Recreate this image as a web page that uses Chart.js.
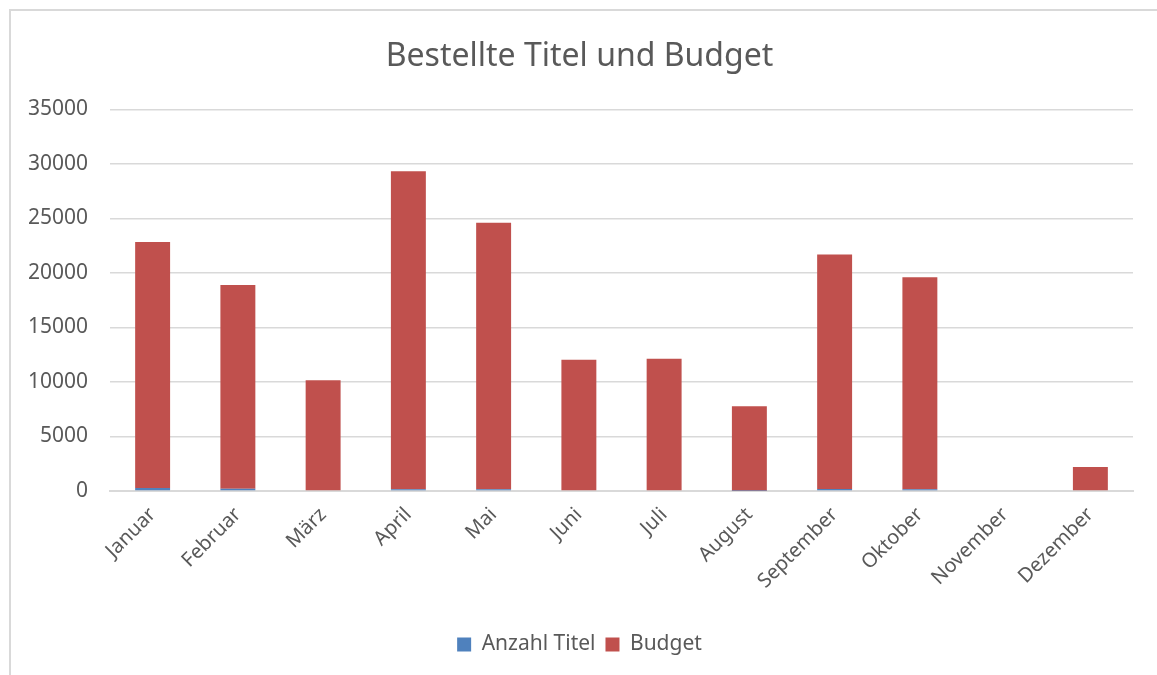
<!DOCTYPE html>
<html>
<head>
<meta charset="utf-8">
<script src="https://cdn.jsdelivr.net/npm/chart.js@4"></script>
<style>
    body { margin: 0; background: #fff; }
    #frame { position: absolute; left: 9px; top: 9px; width: 1160px; height: 680px; border: 2px solid #d9d9d9; }
    #wrap { position: absolute; left: 0; top: 0; width: 1157px; height: 675px; }
</style>
</head>
<body>
<div id="frame"></div>
<div id="wrap"><canvas id="budgetChart"></canvas></div>
<script>
// Daten
const monate = ['Januar', 'Februar', 'März', 'April', 'Mai', 'Juni', 'Juli', 'August', 'September', 'Oktober', 'November', 'Dezember'];
const anzahlTitel = [280, 200, 0, 160, 160, 80, 0, 30, 190, 170, 0, 0];
const budget = [22560, 18700, 10150, 29170, 24440, 11960, 12140, 7740, 21510, 19430, 0, 2200];
const yTicks = [0, 5000, 10000, 15000, 20000, 25000, 30000, 35000];

document.addEventListener('DOMContentLoaded', function () {

    const schrift = "'Noto Sans', sans-serif";
    const grau = '#595959';

    const ctx = document.getElementById('budgetChart').getContext('2d');
    new Chart(ctx, {
        type: 'bar',
        data: {
            labels: monate,
            datasets: [{
                label: 'Anzahl Titel',
                data: anzahlTitel,
                backgroundColor: '#4f81bd'
            }, {
                label: 'Budget',
                data: budget,
                backgroundColor: '#c0504d'
            }]
        },
        options: {
            responsive: true,
            maintainAspectRatio: false,
            animation: false,
            // links 26 + Achsenbreite 84 = Plotbeginn bei 110
            layout: { padding: { left: 26, right: 24, top: 10, bottom: 10 } },
            datasets: {
                bar: { categoryPercentage: 1, barPercentage: 0.41 }
            },
            plugins: {
                title: {
                    display: true,
                    text: 'Bestellte Titel und Budget',
                    color: grau,
                    font: { family: schrift, size: 32, weight: 'normal' },
                    padding: { top: 28, bottom: 33 }
                },
                legend: {
                    position: 'bottom',
                    labels: {
                        color: grau,
                        font: { family: schrift, size: 21 },
                        boxWidth: 14,
                        boxHeight: 14,
                        padding: 10
                    }
                },
                tooltip: { enabled: false }
            },
            scales: {
                x: {
                    stacked: true,
                    grid: { display: false },
                    border: { color: '#d9d9d9', width: 2 },
                    afterFit: function (axis) { axis.height = 133; },
                    ticks: {
                        color: grau,
                        font: { family: schrift, size: 20 },
                        minRotation: 45,
                        maxRotation: 45,
                        padding: 4
                    }
                },
                y: {
                    stacked: true,
                    min: 0,
                    max: 35000,
                    afterBuildTicks: function (axis) {
                        axis.ticks = yTicks.map(v => ({ value: v }));
                    },
                    afterFit: function (axis) { axis.width = 84; },
                    grid: { color: '#d9d9d9', lineWidth: 1.5, drawTicks: false },
                    border: { display: false },
                    ticks: {
                        color: grau,
                        font: { family: schrift, size: 21 },
                        padding: 22,
                        callback: function (v) { return String(v); }
                    }
                }
            }
        }
    });

});
</script>
</body>
</html>
